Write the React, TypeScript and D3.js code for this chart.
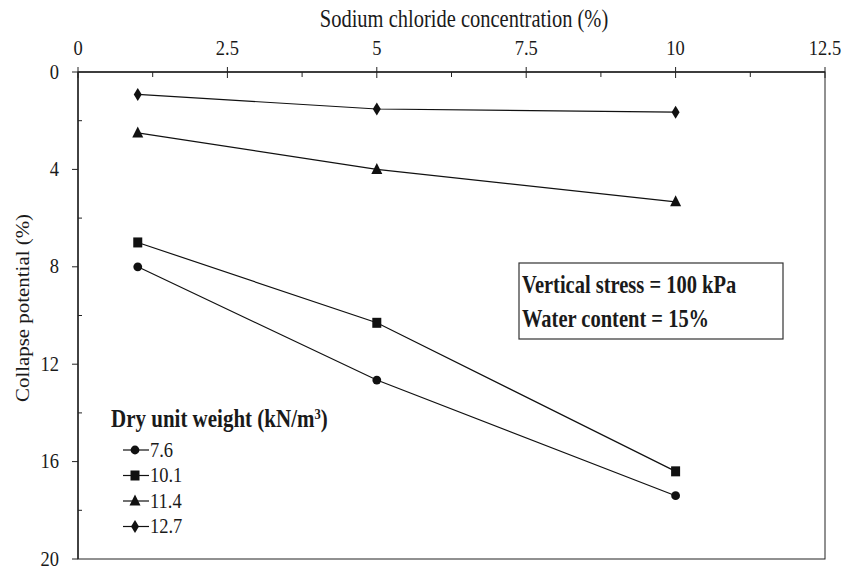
import React from "react";
import * as d3 from "d3";

const concentrations = [1, 5, 10];
const seriesNames = ["7.6", "10.1", "11.4", "12.7"];
const series76 = [8.0, 12.65, 17.4];
const series101 = [7.0, 10.3, 16.4];
const series114 = [2.5, 4.0, 5.33];
const series127 = [0.92, 1.52, 1.65];
const xTicks = [0, 2.5, 5, 7.5, 10, 12.5];
const xTickLabels = ["0", "2.5", "5", "7.5", "10", "12.5"];
const yTicks = [0, 4, 8, 12, 16, 20];
const yTickLabels = ["0", "4", "8", "12", "16", "20"];
const markers = ["circle", "square", "triangle", "diamond"];

const W = 856;
const H = 569;
const M = { left: 78, right: 825, top: 72, bottom: 559 };
const FONT = '"Liberation Serif", "Times New Roman", serif';
const SY = 1.18;

function Marker({ type, x, y }: { type: string; x: number; y: number }) {
  if (type === "circle") return <circle cx={x} cy={y} r={4.4} fill="#111" />;
  if (type === "square") return <rect x={x - 4.5} y={y - 5} width={9} height={10} fill="#111" />;
  if (type === "triangle")
    return <path d={`M${x},${y - 6.5} L${x + 5.5},${y + 4.5} L${x - 5.5},${y + 4.5} Z`} fill="#111" />;
  return <path d={`M${x},${y - 6.5} L${x + 4},${y} L${x},${y + 6.5} L${x - 4},${y} Z`} fill="#111" />;
}

function T({ x, y, size, anchor, bold, children }: any) {
  return (
    <text
      transform={`translate(${x},${y}) scale(1,${SY})`}
      fontSize={size}
      textAnchor={anchor || "start"}
      fontWeight={bold ? "bold" : "normal"}
      fill="#1a1a1a"
      style={{ fontFamily: FONT }}
    >
      {children}
    </text>
  );
}

export default function App() {
  const x = d3.scaleLinear().domain([0, 12.5]).range([M.left, M.right]);
  const y = d3.scaleLinear().domain([0, 20]).range([M.top, M.bottom]);
  const allSeries = [series76, series101, series114, series127];
  const line = d3
    .line<number>()
    .x((_, i) => x(concentrations[i]))
    .y((d) => y(d));
  const xMinor = [1.25, 3.75, 6.25, 8.75, 11.25];
  const yMinor = d3.range(2, 20, 4);
  const legendX = 123;
  const legendY0 = 450;
  const legendDy = 25.5;
  return (
    <svg width={W} height={H} style={{ position: "absolute", left: 0, top: 0, background: "#fff" }}>
      <rect x={0} y={0} width={W} height={H} fill="#fff" />
      {/* frame */}
      <rect x={M.left} y={M.top} width={M.right - M.left} height={M.bottom - M.top} fill="none" stroke="#222" strokeWidth={1} />
      <line x1={M.left} x2={M.right} y1={M.top} y2={M.top} stroke="#222" strokeWidth={1.6} />
      <line x1={M.left} x2={M.left} y1={M.top} y2={M.bottom} stroke="#222" strokeWidth={1.4} />
      {/* x ticks */}
      {xTicks.map((t) => (
        <line key={"xM" + t} x1={x(t)} x2={x(t)} y1={M.top - 5} y2={M.top + 6} stroke="#222" strokeWidth={1} />
      ))}
      {xMinor.map((t) => (
        <line key={"xt" + t} x1={x(t)} x2={x(t)} y1={M.top} y2={M.top + 5} stroke="#222" strokeWidth={1} />
      ))}
      {xTicks.map((t, i) => (
        <T key={"xl" + t} x={x(t)} y={55} size={18.5} anchor="middle">
          {xTickLabels[i]}
        </T>
      ))}
      {/* y ticks */}
      {yTicks.map((t) => (
        <line key={"yt" + t} x1={M.left - 6} x2={M.left} y1={y(t)} y2={y(t)} stroke="#222" strokeWidth={1} />
      ))}
      {yMinor.map((t) => (
        <line key={"ym" + t} x1={M.left} x2={M.left + 4} y1={y(t)} y2={y(t)} stroke="#222" strokeWidth={1} />
      ))}
      {yTicks.map((t, i) => (
        <T key={"yl" + t} x={59} y={y(t) + 6.5} size={18.5} anchor="end">
          {yTickLabels[i]}
        </T>
      ))}
      {/* axis titles */}
      <T x={464} y={27} size={20.5} anchor="middle">
        Sodium chloride concentration (%)
      </T>
      <text
        transform={`translate(29,308) rotate(-90) scale(1.1,1)`}
        fontSize={19}
        textAnchor="middle"
        fill="#1a1a1a"
        style={{ fontFamily: FONT }}
      >
        Collapse potential (%)
      </text>
      {/* series */}
      {allSeries.map((s, si) => (
        <g key={"s" + si}>
          <path d={line(s) || ""} fill="none" stroke="#111" strokeWidth={1.2} />
          {s.map((v, i) => (
            <Marker key={i} type={markers[si]} x={x(concentrations[i])} y={y(v)} />
          ))}
        </g>
      ))}
      {/* annotation box */}
      <rect x={519} y={263} width={264} height={76} fill="#fff" stroke="#333" strokeWidth={1.2} />
      <T x={522} y={293} size={20.5} bold>
        Vertical stress = 100 kPa
      </T>
      <T x={522} y={327} size={20.5} bold>
        Water content = 15%
      </T>
      {/* legend */}
      <T x={111} y={427} size={21} bold>
        Dry unit weight (kN/m<tspan fontSize={12.5} dy={-7}>3</tspan>
        <tspan dy={7}>)</tspan>
      </T>
      {seriesNames.map((n, i) => {
        const ly = legendY0 + i * legendDy;
        return (
          <g key={"lg" + n}>
            <line x1={legendX} x2={legendX + 26} y1={ly} y2={ly} stroke="#111" strokeWidth={1.2} />
            <Marker type={markers[i]} x={legendX + 12} y={ly} />
            <T x={legendX + 27} y={ly + 6.5} size={18.5}>
              {n}
            </T>
          </g>
        );
      })}
    </svg>
  );
}
